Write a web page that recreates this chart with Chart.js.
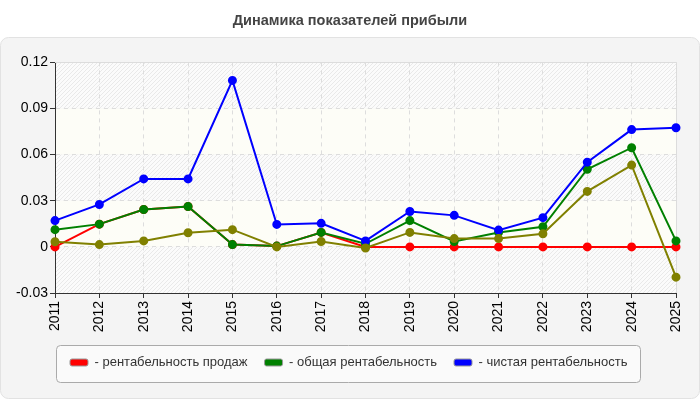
<!DOCTYPE html>
<html>
<head>
<meta charset="utf-8">
<script src="https://cdn.jsdelivr.net/npm/chart.js@4/dist/chart.umd.min.js"></script>
<style>
  html, body { margin: 0; padding: 0; background: #fff; }
  #wrap { width: 700px; height: 400px; }
</style>
</head>
<body>
<div id="wrap"><canvas id="profitChart" width="700" height="400"></canvas></div>
<script>
// years on the x axis
const years = ['2011', '2012', '2013', '2014', '2015', '2016', '2017', '2018',
               '2019', '2020', '2021', '2022', '2023', '2024', '2025'];

// series values
const salesMargin = [0, 0.0148, 0.0243, 0.0263, 0.0015, 0.0005, 0.0094, 0,
                     0, 0, 0, 0, 0, 0, 0];
const totalMargin = [0.0112, 0.0148, 0.0243, 0.0263, 0.0015, 0.0005, 0.0094, 0.002,
                     0.0171, 0.0035, 0.0094, 0.0131, 0.0505, 0.0645, 0.0039];
const netMargin = [0.0171, 0.0276, 0.0442, 0.0442, 0.1083, 0.0146, 0.0153, 0.0039,
                   0.023, 0.0205, 0.0109, 0.019, 0.0551, 0.0763, 0.0775];
const otherMargin = [0.0033, 0.0015, 0.0039, 0.0092, 0.0112, 0, 0.0035, -0.0007,
                     0.0094, 0.0054, 0.0054, 0.0085, 0.0361, 0.0532, -0.0197];

const seriesNames = ['рентабельность продаж', 'общая рентабельность', 'чистая рентабельность'];
const yMin = -0.03, yMax = 0.12, yStep = 0.03;

// hatch pattern for the plot background
function makeHatch() {
    const c = document.createElement('canvas');
    c.width = 4; c.height = 4;
    const g = c.getContext('2d');
    g.fillStyle = '#fbfbfb';
    g.fillRect(0, 0, 4, 4);
    g.strokeStyle = '#e9e9e9';
    g.lineWidth = 1;
    g.beginPath();
    g.moveTo(0, 4); g.lineTo(4, 0);
    g.moveTo(-1, 1); g.lineTo(1, -1);
    g.moveTo(3, 5); g.lineTo(5, 3);
    g.stroke();
    return g.createPattern(c, 'repeat');
}

function roundRect(ctx, x, y, w, h, r) {
    ctx.beginPath();
    ctx.moveTo(x + r, y);
    ctx.arcTo(x + w, y, x + w, y + h, r);
    ctx.arcTo(x + w, y + h, x, y + h, r);
    ctx.arcTo(x, y + h, x, y, r);
    ctx.arcTo(x, y, x + w, y, r);
    ctx.closePath();
}

const backdrop = {
    id: 'backdrop',
    afterLayout(chart) {
        // title centred on the whole canvas
        chart.titleBlock.left = 0;
        chart.titleBlock.right = chart.width;
        // legend sits at the left under the plot
        const lg = chart.legend;
        const h = lg.bottom - lg.top;
        const shift = 53 - lg.left;
        lg.left += shift;
        lg.right += shift;
        lg.top = 339;
        lg.bottom = lg.top + h;
    },
    beforeDraw(chart) {
        const ctx = chart.ctx;
        const area = chart.chartArea;
        const y = chart.scales.y;
        ctx.save();
        // outer panel
        roundRect(ctx, 0.5, 37.5, 699, 361, 8);
        ctx.fillStyle = '#f4f4f4';
        ctx.fill();
        ctx.strokeStyle = '#e2e2e2';
        ctx.lineWidth = 1;
        ctx.stroke();
        // alternating bands
        const hatch = makeHatch();
        let k = 0;
        for (let v = yMax; v > yMin + 1e-9; v -= yStep, k++) {
            const top = y.getPixelForValue(v);
            const bot = y.getPixelForValue(v - yStep);
            ctx.fillStyle = k % 2 === 0 ? hatch : '#fdfdf7';
            ctx.fillRect(area.left, top, area.right - area.left, bot - top);
        }
        // legend frame
        const boxes = chart.legend.legendHitBoxes;
        if (boxes && boxes.length) {
            const first = boxes[0], last = boxes[boxes.length - 1];
            const x0 = Math.round(first.left) - 13.5;
            const x1 = Math.round(last.left + last.width) + 13.5;
            roundRect(ctx, x0, 345.5, x1 - x0, 37, 4);
            ctx.fillStyle = '#fafafa';
            ctx.fill();
            ctx.strokeStyle = '#aaaaaa';
            ctx.stroke();
        }
        ctx.restore();
    },
    beforeDatasetsDraw(chart) {
        const ctx = chart.ctx;
        const a = chart.chartArea;
        ctx.save();
        ctx.strokeStyle = '#dcdcdc';
        ctx.lineWidth = 1;
        ctx.beginPath();
        ctx.moveTo(a.left, Math.round(a.top) + 0.5);
        ctx.lineTo(Math.round(a.right) + 0.5, Math.round(a.top) + 0.5);
        ctx.lineTo(Math.round(a.right) + 0.5, a.bottom);
        ctx.stroke();
        ctx.restore();
    }
};

function line(label, data, color, order) {
    return {
        label: label,
        data: data,
        borderColor: color,
        backgroundColor: color,
        pointBackgroundColor: color,
        pointBorderColor: color,
        borderWidth: 2,
        pointRadius: 3.5,
        pointHoverRadius: 4,
        tension: 0,
        order: order
    };
}

const sans = '"Liberation Sans", Arial, sans-serif';
const tickFont = { family: sans, size: 14 };

new Chart(document.getElementById('profitChart'), {
    type: 'line',
    data: {
        labels: years,
        datasets: [
            line(seriesNames[0], salesMargin, '#ff0000', 3),
            line(seriesNames[1], totalMargin, '#008000', 2),
            line(seriesNames[2], netMargin, '#0000ff', 1),
            line('', otherMargin, '#808000', 0)
        ]
    },
    options: {
        responsive: false,
        animation: false,
        layout: { padding: { left: 0, right: 24, top: 0, bottom: 17 } },
        plugins: {
            title: {
                display: true,
                text: 'Динамика показателей прибыли',
                color: '#444',
                font: { family: sans, size: 14.5, weight: 'bold' },
                padding: { top: 12, bottom: 33 }
            },
            legend: {
                position: 'bottom',
                align: 'start',
                labels: {
                    color: '#333',
                    font: { family: sans, size: 13 },
                    boxWidth: 18,
                    boxHeight: 7,
                    padding: 17,
                    useBorderRadius: true,
                    borderRadius: 2,
                    filter: item => item.datasetIndex < 3,
                    sort: (a, b) => a.datasetIndex - b.datasetIndex,
                    generateLabels: chart => {
                        const items = Chart.defaults.plugins.legend.labels.generateLabels(chart);
                        return items.map(it => Object.assign(it, {
                            text: '- ' + it.text,
                            strokeStyle: '#999',
                            lineWidth: 1
                        }));
                    }
                }
            },
            tooltip: { enabled: false }
        },
        scales: {
            x: {
                offset: false,
                afterFit: s => { s.height = 50; },
                grid: { color: '#dddddd', tickColor: '#333', tickLength: 5, drawOnChartArea: true },
                border: { color: '#333', width: 1, dash: [4, 4] },
                ticks: { color: '#000', font: tickFont, minRotation: 90, maxRotation: 90, padding: 3, autoSkip: false }
            },
            y: {
                min: yMin,
                max: yMax,
                afterFit: s => { s.width = 55; },
                grid: { color: '#dddddd', tickColor: '#333', tickLength: 5 },
                border: { color: '#333', width: 1, dash: [4, 4] },
                ticks: {
                    stepSize: yStep,
                    color: '#000',
                    font: tickFont,
                    padding: 2,
                    callback: v => String(Math.round(v * 100) / 100)
                }
            }
        }
    },
    plugins: [backdrop]
});
</script>
</body>
</html>
